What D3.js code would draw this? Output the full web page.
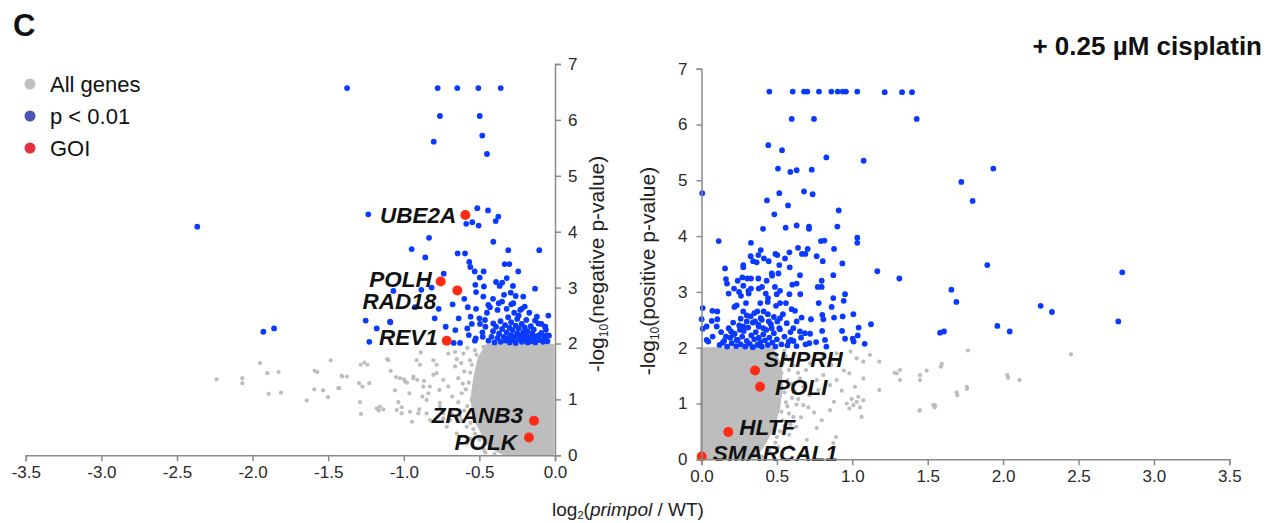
<!DOCTYPE html>
<html>
<head>
<meta charset="utf-8">
<script src="https://cdn.jsdelivr.net/npm/d3@7"></script>
<style>
  body { margin: 0; background: #fff; }
  svg { font-family: "Liberation Sans", Arial, Helvetica, sans-serif; }
  .axis path, .axis line { stroke: #8a8a8a; stroke-width: 1.5; }
  .axis text { font-size: 17px; fill: #2a2a2a; font-family: "Liberation Sans", Arial, sans-serif; }
  .gene { font-size: 22.5px; font-weight: bold; font-style: italic; fill: #111; }
</style>
</head>
<body>
<script>
// tick values
var xTicksNeg = [-3.5, -3.0, -2.5, -2.0, -1.5, -1.0, -0.5, 0.0];
var xTicksPos = [0.0, 0.5, 1.0, 1.5, 2.0, 2.5, 3.0, 3.5];
var yTicks = [0, 1, 2, 3, 4, 5, 6, 7];

// legend entries
var legendLabels = ["All genes", "p < 0.01", "GOI"];

// ---- left panel (negative) ----
// outline of the dense grey cloud
var negCloud = [[-0.013, 1.97], [-0.45, 1.97], [-0.50, 1.75], [-0.53, 1.40], [-0.55, 1.00],
  [-0.53, 0.65], [-0.47, 0.35], [-0.43, 0.15], [-0.34, 0.03], [-0.013, 0.03]];

var negGray = [[-2.238, 1.36], [-2.068, 1.38], [-2.068, 1.29], [-1.951, 1.65], [-1.903, 1.47], [-1.828, 1.49],
  [-1.894, 1.10], [-1.812, 1.12], [-1.642, 0.98], [-1.589, 1.51], [-1.572, 1.49], [-1.592, 1.18], [-1.534, 1.16],
  [-1.501, 1.04], [-1.483, 1.70], [-1.426, 1.20], [-1.407, 1.41], [-1.376, 1.41], [-1.296, 1.29], [-1.274, 1.23],
  [-1.290, 0.95], [-1.283, 0.74], [-1.261, 1.66], [-1.241, 1.62], [-1.228, 1.29], [-1.179, 0.84], [-1.166, 0.80],
  [-1.135, 0.82], [-1.109, 1.72], [-1.087, 1.51], [-1.052, 1.40], [-1.058, 1.16], [-1.036, 0.95], [-1.014, 0.86],
  [-0.999, 1.36], [-0.979, 1.30], [-0.937, 1.38], [-0.946, 0.60], [-0.898, 0.82], [-0.866, 1.33], [-0.877, 1.05],
  [-0.888, 1.84], [-0.827, 1.23], [-0.849, 0.99], [-0.805, 1.70], [-0.783, 1.47], [-0.765, 1.17], [-0.761, 0.94],
  [-0.739, 0.75], [-0.706, 1.82], [-0.694, 0.63], [-1.411, 1.42], [-1.285, 1.62], [-1.433, 1.20], [-1.102, 1.70],
  [-1.025, 1.38], [-0.992, 1.32], [-0.937, 1.41], [-0.963, 1.11], [-0.911, 1.35], [-0.871, 1.23], [-0.838, 1.11],
  [-0.805, 1.44], [-0.783, 1.62], [-0.739, 1.35], [-0.706, 1.23], [-0.661, 1.59], [-0.640, 1.38], [-0.617, 1.11],
  [-0.606, 1.82], [-0.562, 1.70], [-1.157, 0.87], [-1.047, 0.81], [-1.014, 0.75], [-0.959, 0.78], [-0.904, 0.75],
  [-0.849, 0.75], [-0.827, 0.63], [-0.761, 0.87], [-0.739, 0.66], [-0.683, 0.75], [-0.716, 0.51], [-0.650, 0.39],
  [-0.584, 0.21], [-0.518, 0.13], [-0.617, 0.63], [-0.584, 0.51], [-0.551, 0.99], [-0.518, 0.75], [-0.529, 0.39],
  [-0.496, 1.23], [-0.485, 1.59], [-0.474, 1.94], [-0.915, 1.70], [-0.893, 1.62], [-0.660, 1.85], [-0.640, 0.95],
  [-0.600, 1.50], [-0.560, 0.30], [-0.470, 0.10], [-0.450, 0.22], [-0.680, 1.05], [-0.520, 1.80],
  // ragged edge of the cloud
  [-0.58, 1.92], [-0.55, 1.62], [-0.57, 1.30], [-0.59, 1.18], [-0.58, 0.88], [-0.60, 0.80], [-0.56, 0.58],
  [-0.54, 0.47], [-0.50, 0.28], [-0.46, 0.05], [-0.40, 0.02], [-0.53, 1.88], [-0.56, 1.48], [-0.61, 1.28],
  [-0.63, 0.70], [-0.49, 0.55], [-0.62, 1.65], [-0.52, 1.12], [-0.65, 1.72], [-0.55, 0.20]];

var negBlue = [[-1.375, 6.57], [-0.776, 6.57], [-0.646, 6.57], [-0.507, 6.57], [-0.359, 6.57],
  [-0.761, 6.07], [-0.498, 6.07], [-0.802, 5.61], [-0.481, 5.72], [-0.450, 5.39],
  [-0.514, 4.42], [-0.443, 4.38], [-0.375, 4.27], [-0.392, 4.19], [-0.587, 4.14], [-0.547, 4.17], [-0.505, 4.11],
  [-1.235, 4.31], [-2.366, 4.09],
  [-0.833, 3.89], [-0.408, 3.82], [-0.948, 3.69], [-0.309, 3.67], [-0.104, 3.67], [-0.644, 3.61], [-0.595, 3.61],
  [-0.858, 3.54], [-0.567, 3.46], [-0.560, 3.37], [-0.531, 3.29], [-0.472, 3.29], [-0.333, 3.42], [-0.302, 3.42],
  [-0.243, 3.29], [-0.736, 3.25], [-0.498, 3.18], [-0.390, 3.10], [-0.349, 3.09], [-0.527, 3.05], [-0.470, 3.02],
  [-0.366, 3.03], [-0.319, 3.17], [-0.278, 3.03], [-0.132, 2.98], [-0.884, 2.96], [-0.816, 3.00], [-1.069, 2.94],
  [-0.522, 2.92], [-0.600, 2.80], [-0.474, 2.84], [-0.410, 2.80], [-0.337, 2.87], [-0.293, 2.91], [-0.210, 2.84],
  [-0.677, 2.70], [-0.577, 2.65], [-0.522, 2.62], [-0.769, 2.62], [-0.926, 2.65], [-0.441, 2.69], [-0.372, 2.72],
  [-0.276, 2.72], [-0.220, 2.62], [-0.637, 2.45], [-0.796, 2.45], [-1.089, 2.38], [-0.558, 2.48], [-0.044, 2.50],
  [-0.463, 2.42], [-0.723, 2.30], [-0.659, 2.24], [-0.580, 2.27], [-0.496, 2.35], [-0.408, 2.36], [-0.132, 2.41],
  [-0.064, 2.30], [-0.670, 2.01], [-0.628, 2.01], [-0.524, 2.09], [-0.478, 2.12],
  [-1.252, 2.41], [-1.179, 2.27], [-1.228, 2.03], [-1.929, 2.21], [-1.858, 2.27], [-1.091, 2.39],
  [-0.066, 2.30], [-0.055, 2.15], [-0.104, 2.15],
  // dense cluster just above p = 0.01
  [-0.44, 2.05], [-0.42, 2.12], [-0.41, 2.22], [-0.40, 2.02], [-0.39, 2.30], [-0.38, 2.10], [-0.37, 2.18],
  [-0.36, 2.40], [-0.36, 2.03], [-0.35, 2.26], [-0.34, 2.12], [-0.33, 2.33], [-0.33, 2.05], [-0.32, 2.20],
  [-0.31, 2.47], [-0.31, 2.10], [-0.30, 2.28], [-0.30, 2.02], [-0.29, 2.15], [-0.29, 2.38], [-0.28, 2.06],
  [-0.28, 2.24], [-0.27, 2.55], [-0.27, 2.12], [-0.26, 2.32], [-0.26, 2.01], [-0.25, 2.18], [-0.25, 2.44],
  [-0.24, 2.08], [-0.24, 2.27], [-0.23, 2.14], [-0.23, 2.60], [-0.22, 2.03], [-0.22, 2.35], [-0.21, 2.20],
  [-0.21, 2.10], [-0.20, 2.05], [-0.20, 2.29], [-0.19, 2.15], [-0.19, 2.42], [-0.18, 2.02], [-0.18, 2.22],
  [-0.17, 2.10], [-0.16, 2.31], [-0.16, 2.04], [-0.15, 2.17], [-0.14, 2.08], [-0.14, 2.25], [-0.13, 2.02],
  [-0.12, 2.13], [-0.11, 2.36], [-0.10, 2.06], [-0.09, 2.19], [-0.08, 2.03], [-0.07, 2.11], [-0.06, 2.25],
  [-0.05, 2.04], [-0.04, 2.14], [-0.46, 2.30], [-0.48, 2.20], [-0.50, 2.45], [-0.53, 2.05], [-0.55, 2.35],
  [-0.57, 2.15], [-0.45, 2.55], [-0.43, 2.65], [-0.38, 2.60], [-0.35, 2.75], [-0.32, 2.62], [-0.29, 2.70],
  [-0.26, 2.85], [-0.24, 2.50], [-0.20, 2.66], [-0.17, 2.55], [-0.12, 2.48], [-0.09, 2.35]];

var negGenes = ["UBE2A", "POLH", "RAD18", "REV1", "ZRANB3", "POLK"];
var negGeneX = [-0.593, -0.756, -0.646, -0.716, -0.139, -0.172];
var negGeneY = [4.30, 3.11, 2.95, 2.05, 0.62, 0.32];

// ---- right panel (positive) ----
var posCloud = [[0.0, 1.98], [0.47, 1.98], [0.52, 1.70], [0.53, 1.30], [0.51, 0.90], [0.47, 0.55],
  [0.41, 0.25], [0.35, 0.04], [0.0, 0.02]];

var posGray = [[1.767, 1.95], [2.450, 1.88], [2.028, 1.51], [1.593, 1.71], [1.759, 1.30], [1.692, 1.20],
  [1.548, 0.97], [1.444, 0.87], [1.449, 1.51], [1.493, 1.59], [1.316, 1.60], [1.281, 1.55], [1.179, 1.75],
  [1.179, 1.24], [1.073, 1.06], [1.051, 0.93], [1.062, 0.76], [1.029, 1.03], [0.996, 1.08], [1.007, 0.97],
  [0.963, 1.00], [0.980, 0.91], [1.040, 1.12], [1.018, 1.30], [1.073, 1.45], [1.117, 1.87], [0.989, 1.93],
  [1.029, 1.81], [0.980, 1.54], [0.945, 1.59], [0.930, 1.23], [0.879, 1.03], [0.852, 0.88], [0.892, 0.40],
  [0.797, 0.70], [0.764, 0.56], [0.746, 0.84], [0.708, 0.93], [0.675, 0.97], [0.715, 1.15], [0.675, 1.30],
  [0.642, 1.08], [0.609, 0.76], [0.627, 0.58], [0.582, 0.44], [0.698, 0.35], [0.587, 0.23], [0.653, 1.45],
  [0.693, 1.60], [0.720, 1.72], [0.808, 1.84], [0.863, 1.69], [0.896, 1.42], [0.852, 1.33], [0.808, 1.51],
  [0.764, 1.42], [0.775, 1.24], [0.896, 1.90], [1.073, 1.75], [0.874, 0.29], [1.588, 1.66], [2.034, 1.46],
  [2.109, 1.42], [1.762, 1.26], [1.696, 1.15], [1.546, 0.93], [1.294, 1.54], [1.316, 1.42], [1.449, 1.42],
  [1.537, 0.97], [1.449, 0.88], [0.56, 1.85], [0.58, 1.60], [0.55, 1.20], [0.57, 0.95], [0.54, 0.70],
  [0.50, 0.40], [0.45, 0.15], [0.62, 1.90], [0.60, 1.35], [0.53, 1.55], [0.66, 0.75],
  // ragged edge of the cloud
  [0.55, 1.95], [0.58, 1.78], [0.61, 1.68], [0.57, 1.42], [0.60, 1.10], [0.62, 1.22], [0.56, 1.02],
  [0.58, 0.82], [0.55, 0.60], [0.52, 0.50], [0.49, 0.30], [0.44, 0.10], [0.40, 0.05], [0.64, 1.55],
  [0.54, 1.72], [0.63, 0.98], [0.59, 0.62], [0.53, 0.85], [0.51, 0.22]];

var posBlue = [[0.450, 6.59], [0.605, 6.59], [0.680, 6.59], [0.702, 6.59], [0.779, 6.59], [0.861, 6.59],
  [0.903, 6.59], [0.936, 6.59], [0.958, 6.59], [1.033, 6.59], [1.215, 6.58], [1.330, 6.58], [1.396, 6.58],
  [1.427, 6.10], [0.598, 6.10], [0.746, 6.10],
  [0.443, 5.63], [0.534, 5.54], [0.828, 5.41], [1.075, 5.35], [0.507, 5.21], [0.589, 5.15], [0.631, 5.18],
  [0.731, 5.19], [0.005, 4.77], [0.516, 4.77], [0.680, 4.80], [0.737, 4.75], [0.434, 4.64], [0.574, 4.55],
  [0.910, 4.46], [0.483, 4.39], [0.901, 4.17], [0.408, 4.13], [0.558, 4.15], [0.631, 4.19], [0.713, 4.17],
  [0.713, 4.13], [0.114, 3.91], [0.328, 3.88], [0.792, 3.91], [0.815, 3.92], [1.033, 3.97], [1.033, 3.88],
  [0.393, 3.75], [0.326, 3.64], [0.377, 3.66], [0.414, 3.60], [0.342, 3.55], [0.366, 3.53], [0.446, 3.55],
  [0.490, 3.68], [0.503, 3.66], [0.554, 3.60], [0.583, 3.71], [0.640, 3.79], [0.666, 3.68], [0.689, 3.68],
  [0.704, 3.77], [0.764, 3.64], [0.804, 3.55], [0.879, 3.77], [0.934, 3.51], [1.166, 3.37],
  [0.156, 3.42], [0.277, 3.48], [0.277, 3.44], [0.516, 3.48], [0.585, 3.44], [0.466, 3.33], [0.510, 3.33],
  [0.653, 3.30], [0.874, 3.30], [0.162, 3.23], [0.169, 3.15], [0.240, 3.20], [0.271, 3.26], [0.304, 3.24],
  [0.328, 3.24], [0.377, 3.24], [0.432, 3.20], [0.468, 3.29], [0.277, 3.11], [0.328, 3.06], [0.379, 3.06],
  [0.401, 3.09], [0.487, 3.09], [0.521, 3.02], [0.602, 3.13], [0.631, 3.15], [0.771, 3.09], [0.797, 3.09],
  [0.797, 3.20], [0.180, 2.97], [0.216, 3.06], [0.249, 3.00], [0.262, 2.93], [0.313, 2.97], [0.311, 3.02],
  [0.426, 2.97], [0.441, 2.89], [0.499, 2.96], [0.583, 2.96], [0.655, 2.96], [0.439, 2.82], [0.390, 2.80],
  [0.521, 2.80], [0.233, 2.76], [0.218, 2.73], [0.295, 2.80], [0.494, 2.75], [0.560, 2.80], [0.777, 2.80],
  [0.863, 2.73], [0.943, 2.84], [0.952, 2.96], [0.874, 2.89],
  [0.008, 2.71], [0.072, 2.66], [0.105, 2.65], [0.277, 2.65], [0.370, 2.65], [0.412, 2.65], [0.540, 2.60],
  [0.598, 2.69], [0.620, 2.66], [0.664, 2.54], [0.726, 2.51], [0.801, 2.59], [0.808, 2.51], [0.879, 2.54],
  [0.936, 2.56], [1.007, 2.60], [1.124, 2.42],
  [0.001, 2.51], [0.034, 2.38], [0.008, 2.34], [0.068, 2.48], [0.105, 2.51], [0.101, 2.38], [0.074, 2.20],
  [0.034, 2.14], [0.045, 2.11], [0.141, 2.09], [0.162, 2.20], [0.196, 2.29], [0.211, 2.23], [0.233, 2.14],
  [0.255, 2.32], [0.277, 2.38], [0.300, 2.47], [0.326, 2.56], [0.355, 2.47], [0.377, 2.41], [0.393, 2.53],
  [0.410, 2.35], [0.446, 2.47], [0.466, 2.35], [0.503, 2.47], [0.521, 2.53], [0.516, 2.35], [0.565, 2.44],
  [0.609, 2.35], [0.631, 2.47], [0.653, 2.29], [0.686, 2.26], [0.715, 2.08], [0.594, 2.14], [0.578, 2.11],
  [0.819, 2.14], [0.828, 2.02], [0.932, 2.30], [0.952, 2.16], [1.003, 2.16], [1.009, 2.11], [1.036, 2.22],
  [1.042, 2.36], [1.082, 2.07],
  // far right
  [1.935, 5.21], [1.723, 4.97], [1.798, 4.63], [1.895, 3.48], [2.790, 3.35], [1.312, 3.24], [1.657, 3.04],
  [1.690, 2.82], [2.249, 2.75], [2.324, 2.64], [2.764, 2.47], [1.962, 2.39], [2.044, 2.29], [1.582, 2.27],
  [1.608, 2.29],
  // dense cluster just above p = 0.01
  [0.12, 2.05], [0.15, 2.12], [0.17, 2.02], [0.19, 2.18], [0.20, 2.08], [0.22, 2.25], [0.23, 2.03],
  [0.24, 2.14], [0.25, 2.40], [0.26, 2.06], [0.27, 2.20], [0.28, 2.30], [0.29, 2.02], [0.30, 2.12],
  [0.31, 2.36], [0.32, 2.07], [0.33, 2.22], [0.34, 2.01], [0.34, 2.45], [0.35, 2.15], [0.36, 2.28],
  [0.37, 2.05], [0.38, 2.18], [0.38, 2.38], [0.39, 2.10], [0.40, 2.02], [0.41, 2.24], [0.42, 2.13],
  [0.43, 2.32], [0.44, 2.05], [0.45, 2.18], [0.46, 2.42], [0.47, 2.09], [0.48, 2.26], [0.49, 2.02],
  [0.50, 2.15], [0.52, 2.33], [0.53, 2.06], [0.55, 2.20], [0.57, 2.04], [0.59, 2.28], [0.61, 2.12],
  [0.63, 2.03], [0.66, 2.18], [0.69, 2.06], [0.72, 2.25], [0.76, 2.10], [0.80, 2.30], [0.13, 2.28],
  [0.18, 2.35], [0.21, 2.45], [0.26, 2.52], [0.30, 2.58], [0.35, 2.62], [0.40, 2.50], [0.44, 2.60],
  [0.48, 2.55]];

var posGenes = ["SHPRH", "POLI", "HLTF", "SMARCAL1"];
var posGeneX = [0.355, 0.388, 0.178, 0.001];
var posGeneY = [1.59, 1.30, 0.49, 0.05];

// label nudges (pixels) for the gene names
var labelNudge = {
  UBE2A: [-9, 0, "end"], POLH: [-9, -3, "end"], RAD18: [-21, 11, "end"], REV1: [-9, -4, "end"],
  ZRANB3: [-11, -6, "end"], POLK: [-12, 4, "end"],
  SHPRH: [9, -12, "start"], POLI: [15, 0, "start"], HLTF: [11, -5, "start"], SMARCAL1: [11, -4, "start"]
};

var grayCol = "#bdbdbd", blueCol = "#0a3aff", redCol = "#ff2b14";

var svg = d3.select("body").append("svg")
    .attr("width", 1272)
    .attr("height", 523);

// scales
var xNeg = d3.scaleLinear().domain([-3.5, 0]).range([25.8, 555]);
var yNeg = d3.scaleLinear().domain([0, 7]).range([455.3, 64]);
var xPos = d3.scaleLinear().domain([0, 3.5]).range([701.5, 1229.3]);
var yPos = d3.scaleLinear().domain([0, 7]).range([459.3, 68.7]);

var fmt = function (d) { return d.toFixed(1); };

function drawPanel(x, y, cloud, gray, blue, genes, gx, gy) {
    var g = svg.append("g");

    var line = d3.line()
        .x(function (d) { return x(d[0]); })
        .y(function (d) { return y(d[1]); })
        .curve(d3.curveLinearClosed);

    g.append("path")
        .datum(cloud)
        .attr("d", line)
        .attr("fill", grayCol)
        .attr("stroke", grayCol)
        .attr("stroke-width", 3)
        .attr("stroke-linejoin", "round");

    g.selectAll(".gray")
        .data(gray)
        .enter().append("circle")
        .attr("cx", function (d) { return x(d[0]); })
        .attr("cy", function (d) { return y(d[1]); })
        .attr("r", 2.1)
        .attr("fill", grayCol);

    g.selectAll(".blue")
        .data(blue)
        .enter().append("circle")
        .attr("cx", function (d) { return x(d[0]); })
        .attr("cy", function (d) { return y(d[1]); })
        .attr("r", 2.9)
        .attr("fill", blueCol);

    var goi = genes.map(function (name, i) { return { name: name, x: gx[i], y: gy[i] }; });

    g.selectAll(".goi")
        .data(goi)
        .enter().append("circle")
        .attr("cx", function (d) { return x(d.x); })
        .attr("cy", function (d) { return y(d.y); })
        .attr("r", 5)
        .attr("fill", redCol);

    g.selectAll(".gene")
        .data(goi)
        .enter().append("text")
        .attr("class", "gene")
        .attr("x", function (d) { return x(d.x) + labelNudge[d.name][0]; })
        .attr("y", function (d) { return y(d.y) + labelNudge[d.name][1]; })
        .attr("dy", "0.36em")
        .attr("text-anchor", function (d) { return labelNudge[d.name][2]; })
        .text(function (d) { return d.name; });
}

drawPanel(xNeg, yNeg, negCloud, negGray, negBlue, negGenes, negGeneX, negGeneY);
drawPanel(xPos, yPos, posCloud, posGray, posBlue, posGenes, posGeneX, posGeneY);

// axes
svg.append("g").attr("class", "axis")
    .attr("transform", "translate(0," + yNeg(0) + ")")
    .call(d3.axisBottom(xNeg).tickValues(xTicksNeg).tickFormat(fmt).tickSizeOuter(0).tickSize(6).tickPadding(5));

svg.append("g").attr("class", "axis")
    .attr("transform", "translate(" + xNeg(0) + ",0)")
    .call(d3.axisRight(yNeg).tickValues(yTicks).tickFormat(d3.format("d")).tickSizeOuter(0).tickSize(6).tickPadding(7));

svg.append("g").attr("class", "axis")
    .attr("transform", "translate(0," + yPos(0) + ")")
    .call(d3.axisBottom(xPos).tickValues(xTicksPos).tickFormat(fmt).tickSizeOuter(0).tickSize(6).tickPadding(5));

svg.append("g").attr("class", "axis")
    .attr("transform", "translate(" + xPos(0) + ",0)")
    .call(d3.axisLeft(yPos).tickValues(yTicks).tickFormat(d3.format("d")).tickSizeOuter(0).tickSize(5).tickPadding(9));

// axis titles with subscripts
function yTitle(cx, cy, word) {
    var t = svg.append("text")
        .attr("transform", "translate(" + cx + "," + cy + ") rotate(-90)")
        .attr("text-anchor", "middle")
        .attr("dy", "0.35em")
        .attr("font-size", 21)
        .attr("fill", "#222");
    t.append("tspan").text("-log");
    t.append("tspan").attr("font-size", 12).attr("dy", 4).text("10");
    t.append("tspan").attr("dy", -4).text("(" + word + " p-value)");
}
yTitle(597, 264, "negative");
yTitle(648, 271, "positive");

var xt = svg.append("text")
    .attr("x", 628).attr("y", 516)
    .attr("text-anchor", "middle")
    .attr("font-size", 19)
    .attr("fill", "#222");
xt.append("tspan").text("log");
xt.append("tspan").attr("font-size", 11).attr("dy", 3).text("2");
xt.append("tspan").attr("dy", -3).text("(");
xt.append("tspan").attr("font-style", "italic").text("primpol");
xt.append("tspan").text(" / WT)");

// panel letter and condition
svg.append("text")
    .attr("x", 13).attr("y", 36)
    .attr("font-size", 31).attr("font-weight", "bold")
    .attr("fill", "#111")
    .text("C");

svg.append("text")
    .attr("x", 1262).attr("y", 55)
    .attr("text-anchor", "end")
    .attr("font-size", 26).attr("font-weight", "bold")
    .attr("fill", "#111")
    .text("+ 0.25 \u00b5M cisplatin");

// legend
var legendCols = ["#c0c0c0", "#4a55b3", "#e2303e"];
var legend = svg.selectAll(".legend")
    .data(legendLabels)
    .enter().append("g")
    .attr("transform", function (d, i) { return "translate(30," + (84 + i * 32) + ")"; });

legend.append("circle")
    .attr("r", 5.5)
    .attr("fill", function (d, i) { return legendCols[i]; });

legend.append("text")
    .attr("x", 20)
    .attr("dy", "0.36em")
    .attr("font-size", 22)
    .attr("fill", "#111")
    .text(function (d) { return d; });
</script>
</body>
</html>
